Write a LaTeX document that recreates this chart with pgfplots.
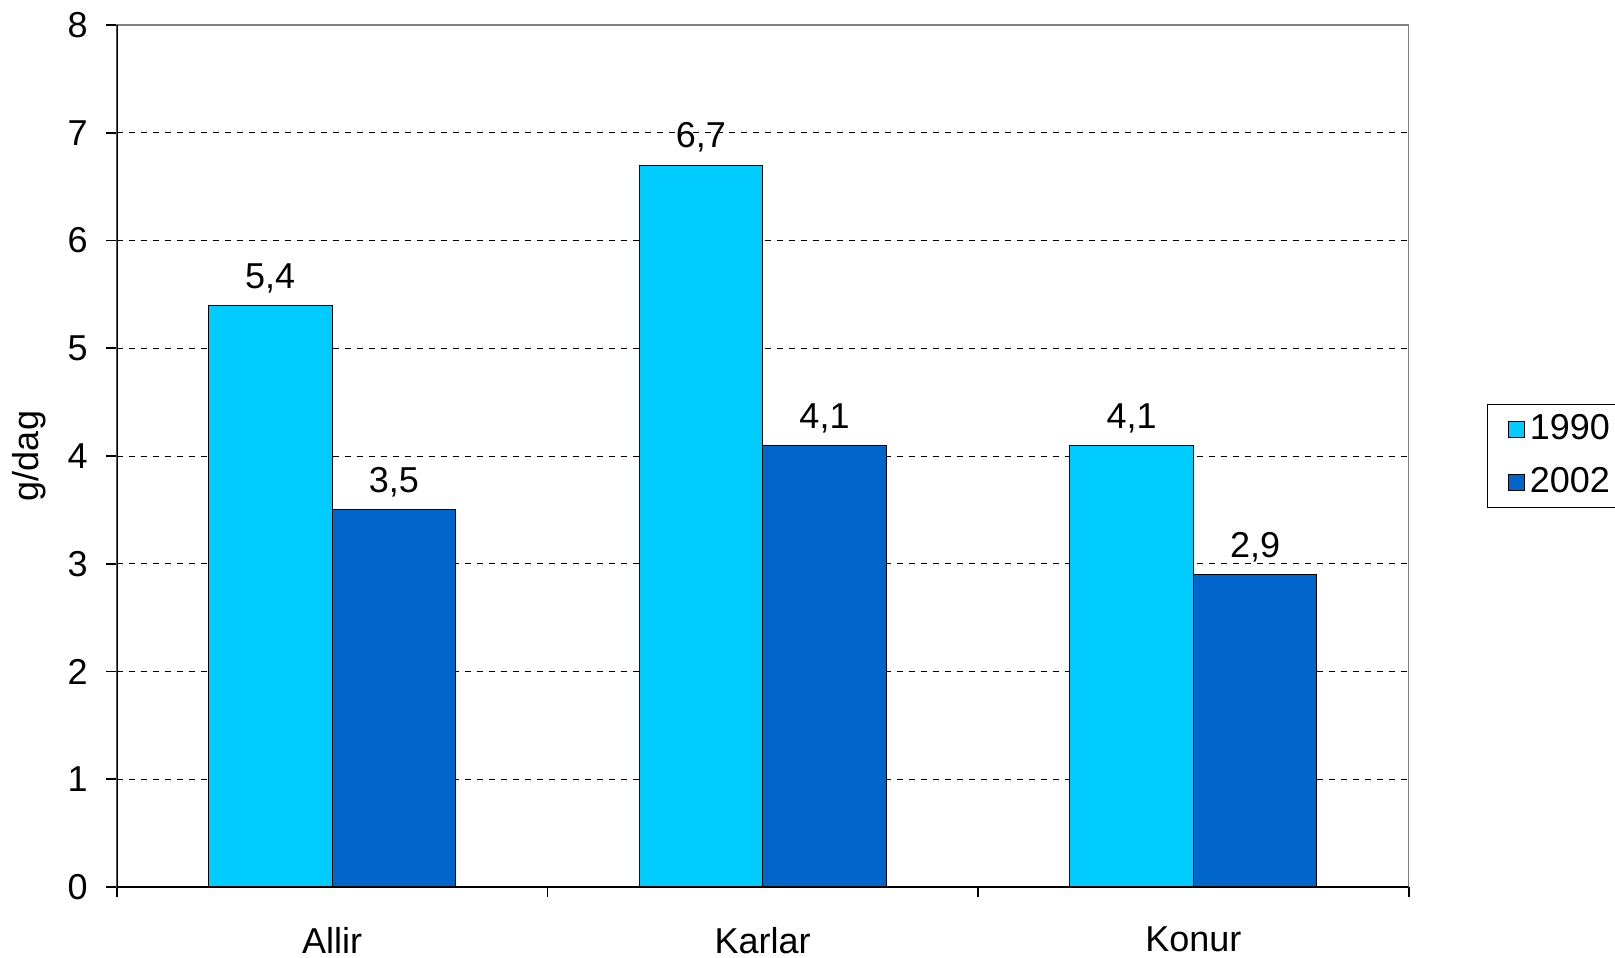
\documentclass[border=0pt]{standalone}
\usepackage{pgfplots}
\pgfplotsset{compat=1.18}
\usepackage{fontspec}
\setmainfont{Liberation Sans}
\definecolor{cA}{HTML}{00CCFF}
\definecolor{cB}{HTML}{0066CC}
\begin{document}
\fontsize{18}{21.6}\selectfont
\begin{tikzpicture}
\useasboundingbox (0,0) rectangle (807.5pt,478.75pt);
\begin{axis}[
  at={(58.35pt,35.25pt)}, anchor=south west,
  scale only axis,
  width=646pt, height=431pt,
  xmin=-0.5, xmax=2.5, ymin=0, ymax=8,
  ytick={0,1,...,8},
  xtick={0,1,2},
  xticklabels={Allir,Karlar,Konur},
  minor xtick={-0.5,0.5,1.5,2.5},
  major x tick style={draw=none},
  tick align=outside,
  major tick length=5.3pt,
  minor tick length=5pt,
  tick style={black, line width=0.8pt},
  xtick pos=bottom, ytick pos=left,
  ymajorgrids,
  grid style={black, dashed, line width=0.5pt},
  axis line style={draw=gray, line width=0.6pt},
  /pgf/number format/assume math mode=true,
  ticklabel style={font=\fontsize{18}{21.6}\selectfont},
  yticklabel style={xshift=-3pt},
  xticklabel style={yshift=-8.5pt},
  ylabel={g/dag},
  every axis y label/.style={at={(axis description cs:0,0.5)}, rotate=90, anchor=center, yshift=43.85pt, font=\fontsize{18}{21.6}\selectfont},
  ybar, bar width=0.287, 
  nodes near coords,
  every node near coord/.append style={font=\fontsize{18}{21.6}\selectfont, /pgf/number format/.cd, fixed, fixed zerofill, precision=1, use comma, assume math mode=true},
  legend style={at={(1,0.5)}, anchor=west, xshift=39pt, draw=black, line width=0.6pt,
    font=\fontsize{18}{21.6}\selectfont, row sep=7pt, inner xsep=10.5pt, inner ysep=3pt},
  legend cell align=left,
  legend image code/.code={\draw[#1, draw=black, line width=0.5pt] (0pt,-3.9pt) rectangle (7.8pt,3.9pt); \path[draw=none, fill=none] (0pt,0pt) -- (8.5pt,0pt);},
]
\addplot[fill=cA, draw=black, line width=0.5pt, bar shift=-0.1435] coordinates {(0,5.4) (1,6.7) (2,4.1)};
\addplot[fill=cB, draw=black, line width=0.5pt, bar shift=0.1435] coordinates {(0,3.5) (1,4.1) (2,2.9)};
\legend{1990,2002}
\draw[black, line width=0.8pt] (rel axis cs:0,1) -- (rel axis cs:0,0) -- (rel axis cs:1,0);
\end{axis}
\end{tikzpicture}
\end{document}
